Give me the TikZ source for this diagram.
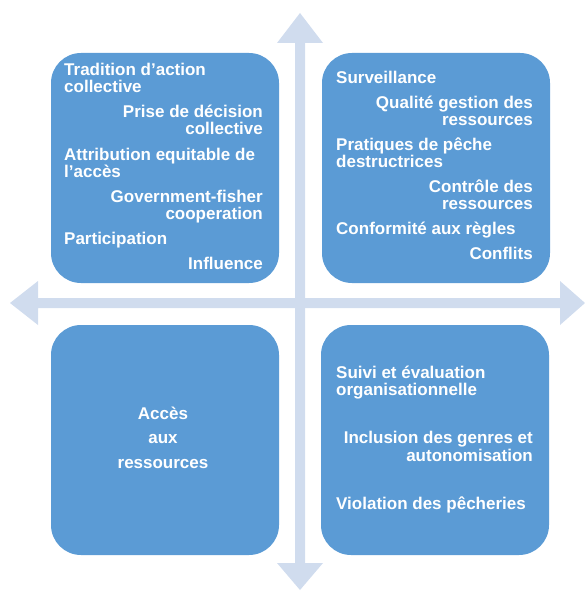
\documentclass[tikz,border=0pt]{standalone}
\usepackage{fontspec}
\setmainfont{Liberation Sans}
\definecolor{boxblue}{RGB}{91,155,213}
\definecolor{arrowblue}{RGB}{208,220,238}
\begin{document}
\begin{tikzpicture}[x=1pt,y=-1pt,
  box/.style={draw=none,fill=boxblue,rounded corners=30pt,minimum width=228pt,minimum height=230pt,inner sep=0pt},
  txt/.style={text=white,inner sep=0pt,font=\fontsize{17}{17}\selectfont\bfseries,yshift=-1.5pt},
  lt/.style={txt,anchor=base west},
  rt/.style={txt,anchor=base east},
  ct/.style={txt,anchor=base},
  arr/.style={fill=arrowblue,draw=none}]
\useasboundingbox (0,0) rectangle (585,591);
% axes
\fill[arr] (10,303) -- (38,281) -- (38,298) -- (560,298) -- (560,281) -- (585,303)
  -- (560,325) -- (560,308) -- (38,308) -- (38,325) -- cycle;
\fill[arr] (300,13) -- (323,43) -- (305,43) -- (305,563) -- (323,563) -- (300,590)
  -- (277,563) -- (295,563) -- (295,43) -- (277,43) -- cycle;
% boxes
\node[box] (tl) at (165,168) {};
\node[box] (tr) at (436,168) {};
\node[box] (bl) at (165,440) {};
\node[box] (br) at (435,440) {};
% top-left texts
\node[lt] (a1) at (64,74) {Tradition d’action};
\node[lt] (a2) at (64,91) {collective};
\node[rt] (a3) at (263,116) {Prise de décision};
\node[rt] (a4) at (263,133) {collective};
\node[lt] (a5) at (64,159) {Attribution equitable de};
\node[lt] (a6) at (64,176) {l’accès};
\node[rt] (a7) at (263,201) {Government-fisher};
\node[rt] (a8) at (263,218) {cooperation};
\node[lt] (a9) at (64,243) {Participation};
\node[rt] (a10) at (263,268) {Influence};
% top-right texts
\node[lt] (b1) at (336,82) {Surveillance};
\node[rt] (b2) at (533,107) {Qualité gestion des};
\node[rt] (b3) at (533,124) {ressources};
\node[lt] (b4) at (336,149) {Pratiques de pêche};
\node[lt] (b5) at (336,166) {destructrices};
\node[rt] (b6) at (533,191) {Contrôle des};
\node[rt] (b7) at (533,208) {ressources};
\node[lt] (b8) at (336,233) {Conformité aux règles};
\node[rt] (b9) at (533,258) {Conflits};
% bottom-left texts
\node[ct] (c1) at (163,418) {Accès};
\node[ct] (c2) at (163,442) {aux};
\node[ct] (c3) at (163,467) {ressources};
% bottom-right texts
\node[lt] (d1) at (336,377) {Suivi et évaluation};
\node[lt] (d2) at (336,394) {organisationnelle};
\node[rt] (d3) at (533,442) {Inclusion des genres et};
\node[rt] (d4) at (533,460) {autonomisation};
\node[lt] (d5) at (336,508) {Violation des pêcheries};
\end{tikzpicture}
\end{document}
